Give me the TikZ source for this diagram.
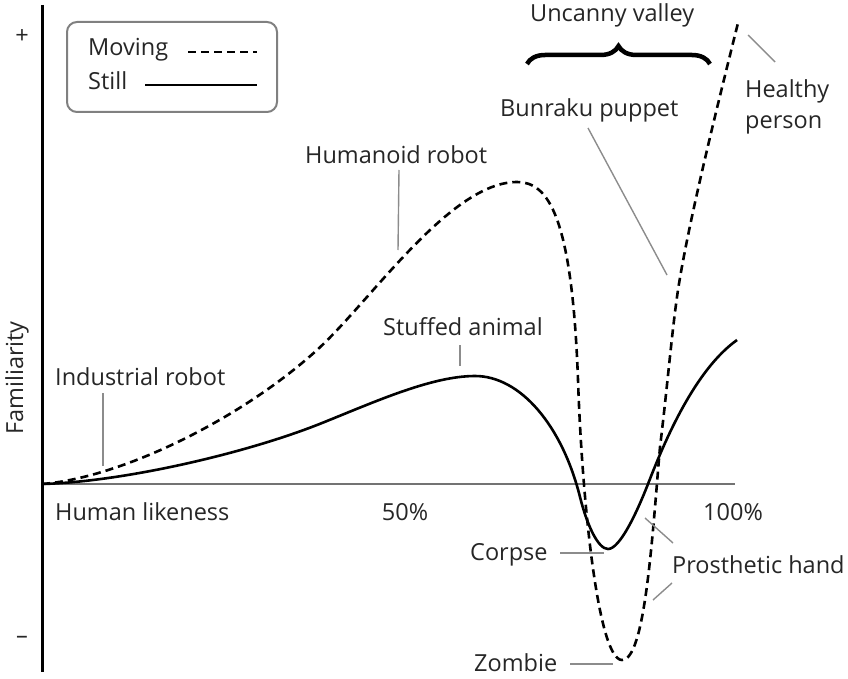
\documentclass[tikz,border=0pt]{standalone}
\usepackage{fontspec}
\setmainfont{Open Sans}
\usetikzlibrary{decorations.pathreplacing}
\tikzset{
  moving/.style={line width=2.6pt, dash pattern=on 8pt off 5pt},
  still/.style={line width=2.6pt},
  leader/.style={draw=black!45, line width=1.4pt},
  lbl/.style={font=\fontsize{23.5}{31}\selectfont, text=black!85, inner sep=0pt},
}
\begin{document}
\begin{tikzpicture}[x=1pt,y=-1pt]
			%%%%% START %%%%%
			\useasboundingbox (0,0) rectangle (848,679);
			
			% axes
			\draw[line width=2pt, draw=black!55] (42,484) -- (735,484);
			\draw[line width=3pt] (42,5) -- (42,672);
			\node[lbl] (plus) at (22,37) {+};
			\node[lbl] (minus) at (22,640) {--};
			\node[lbl, rotate=90] (fam) at (17,378) {Familiarity};
			
			% legend
			\draw[rounded corners=10pt, draw=black!50, line width=2pt] (67,22) rectangle (277,112);
			\node[lbl, anchor=west] (mv) at (88,50) {Moving};
			\node[lbl, anchor=west] (st) at (88,81) {Still};
			\draw[moving] (188,52) -- (257,52);
			\draw[still] (145,85) -- (257,85);
			
			% x axis labels
			\node[lbl, anchor=west] (hl) at (55,512) {Human likeness};
			\node[lbl] (half) at (405,512) {50\%};
			\node[lbl] (full) at (733,512) {100\%};
			
			% curves
			\draw[moving] (42,484) .. controls (120,478) and (240,420) .. (317,350)
				.. controls (370,302) and (450,182) .. (517,182)
				.. controls (548,182) and (572,215) .. (578,380)
				.. controls (582,500) and (598,660) .. (622,660)
				.. controls (645,660) and (652,540) .. (660,447)
				.. controls (667,390) and (672,330) .. (678,290)
				.. controls (688,225) and (715,115) .. (738,23);
			\draw[still] (42,484) .. controls (120,482) and (240,455) .. (317,425)
				.. controls (370,404) and (430,376) .. (475,376)
				.. controls (520,376) and (562,425) .. (580,497)
				.. controls (587,525) and (598,549) .. (608,549)
				.. controls (620,549) and (637,512) .. (648,484)
				.. controls (665,440) and (695,370) .. (737,340);
			
			% labels and leaders
			\node[lbl, anchor=west] (ind) at (55,377) {Industrial robot};
			\coordinate (ind1) at (103,393);
			\coordinate (ind2) at (103,466);
			\draw[leader] (ind1) -- (ind2);
			
			\node[lbl, anchor=west] (hum) at (305,155) {Humanoid robot};
			\coordinate (hum1) at (399,170);
			\coordinate (hum2) at (398,250);
			\draw[leader] (hum1) -- (hum2);
			
			\node[lbl, anchor=west] (stuf) at (383,327) {Stuffed animal};
			\coordinate (stuf1) at (460,345);
			\coordinate (stuf2) at (460,366);
			\draw[leader] (stuf1) -- (stuf2);
			
			\node[lbl, anchor=west] (bun) at (500,110) {Bunraku puppet};
			\coordinate (bun1) at (588,128);
			\coordinate (bun2) at (667,275);
			\draw[leader] (bun1) -- (bun2);
			
			\node[lbl, anchor=west] (unc) at (530,15) {Uncanny valley};
			\draw[line width=4.5pt, decorate, decoration={brace, amplitude=18pt}] (527,64) -- (710,64);
			
			\node[lbl, anchor=north west, align=left] (hp) at (745,79) {Healthy\\person};
			\coordinate (hp1) at (748,35);
			\coordinate (hp2) at (775,62);
			\draw[leader] (hp1) -- (hp2);
			
			\node[lbl, anchor=west] (cor) at (470,555) {Corpse};
			\coordinate (cor1) at (560,553);
			\coordinate (cor2) at (604,553);
			\draw[leader] (cor1) -- (cor2);
			
			\node[lbl, anchor=west] (pro) at (672,565) {Prosthetic hand};
			\coordinate (pro1) at (645,518);
			\coordinate (pro2) at (673,543);
			\coordinate (pro3) at (672,583);
			\coordinate (pro4) at (653,600);
			\draw[leader] (pro1) -- (pro2);
			\draw[leader] (pro3) -- (pro4);
			
			\node[lbl, anchor=west] (zom) at (474,663) {Zombie};
			\coordinate (zom1) at (570,664);
			\coordinate (zom2) at (613,664);
			\draw[leader] (zom1) -- (zom2);
			%%%%% END %%%%%
\end{tikzpicture}
\end{document}
